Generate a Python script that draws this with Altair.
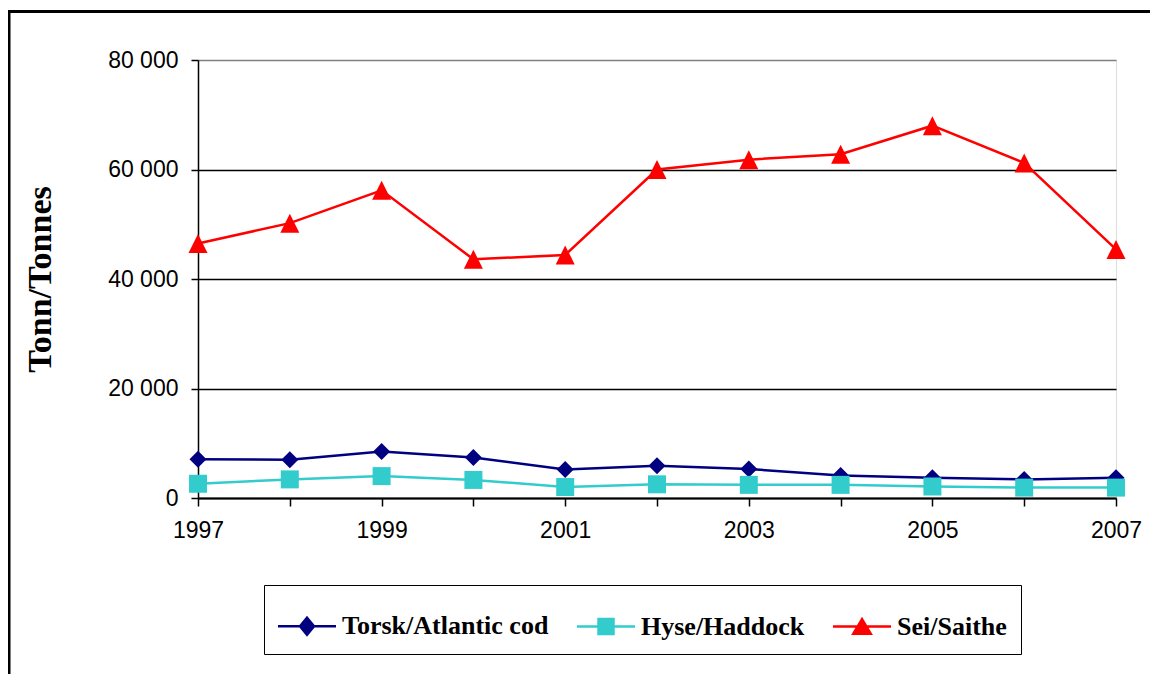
import altair as alt
import pandas as pd

years = list(range(1997, 2008))
torsk = [7100, 7000, 8500, 7400, 5200, 5900, 5300, 4100, 3700, 3400, 3700]
hyse = [2600, 3400, 4000, 3300, 2000, 2500, 2400, 2400, 2100, 1900, 1900]
sei = [46500, 50200, 56200, 43600, 44400, 60000, 61800, 62800, 68000, 61200, 45400]

series = ["Torsk/Atlantic cod", "Hyse/Haddock", "Sei/Saithe"]
colors = ["#000080", "#33CCCC", "#FF0000"]
y_ticks = [0, 20000, 40000, 60000, 80000]

rows = []
for name, vals in zip(series, [torsk, hyse, sei]):
    for yr, v in zip(years, vals):
        rows.append({"year": yr, "value": v, "series": name})
df = pd.DataFrame(rows)

# marker shapes on the chart (unit square -1..1)
marker_paths = [
    "M0,-0.85L0.85,0L0,0.85L-0.85,0Z",
    "M-0.9,-0.9L0.9,-0.9L0.9,0.9L-0.9,0.9Z",
    "M0,-0.95L0.95,0.95L-0.95,0.95Z",
]
# legend symbols: line with marker in its middle
legend_paths = [
    "M-1.049,0L1.204,0M0.078,-0.33L0.35,0L0.078,0.33L-0.194,0Z",
    "M-1.049,0L1.204,0M-0.213,-0.291L0.369,-0.291L0.369,0.291L-0.213,0.291Z",
    "M-1.049,0L1.204,0M0.078,-0.283L0.416,0.283L-0.26,0.283Z",
]

x_enc = alt.X(
    "year:Q",
    scale=alt.Scale(domain=[1997, 2007], nice=False, zero=False),
    axis=alt.Axis(
        values=years, format="d",
        labelExpr="datum.value % 2 == 1 ? datum.label : ''",
        title=None, grid=False,
        domainColor="black", domainWidth=2,
        tickColor="black", tickWidth=1.5, tickSize=8,
        labelPadding=13, labelFont="Liberation Sans", labelFontSize=23,
        labelColor="black", labelFlush=False, labelOverlap=False,
    ),
)
y_enc = alt.Y(
    "value:Q",
    scale=alt.Scale(domain=[0, 80000], nice=False),
    axis=alt.Axis(
        values=y_ticks,
        labelExpr="replace(format(datum.value, ','), ',', ' ')",
        title="Tonn/Tonnes", titleFont="Liberation Serif", titleFontSize=34,
        titleFontWeight="bold", titleColor="black",
        titleX=-148, titleY=219, titleAngle=270, titleAlign="center",
        titleBaseline="alphabetic",
        grid=True,
        gridColor={"condition": {"test": "datum.value >= 80000", "value": "#808080"}, "value": "black"},
        gridWidth=1.5,
        domainColor="black", domainWidth=1.5,
        tickColor="black", tickSize=7, tickWidth=1.5,
        labelPadding=13, labelFont="Liberation Sans", labelFontSize=23,
        labelColor="black", labelFlush=False, labelOverlap=False,
    ),
)

color_scale = alt.Scale(domain=series, range=colors)

base = alt.Chart(df)

lines = base.mark_line(strokeWidth=2.5).encode(
    x=x_enc, y=y_enc,
    color=alt.Color("series:N", scale=color_scale, legend=None),
)

points = base.mark_point(filled=True, size=400, opacity=1).encode(
    x=x_enc, y=y_enc,
    color=alt.Color("series:N", scale=color_scale, legend=None),
    shape=alt.Shape("series:N", scale=alt.Scale(domain=series, range=marker_paths), legend=None),
)

leg = alt.Legend(
    orient="none", legendX=66, legendY=525, direction="horizontal", title=None,
    labelFont="Liberation Serif", labelFontSize=26, labelFontWeight="bold",
    labelColor="black", labelLimit=500, labelOffset=10,
    symbolSize=2652, symbolStrokeWidth=2.5, symbolOpacity=1,
    strokeColor="black", fillColor="white", padding=14, columnPadding=22,
)

legend_layer = base.transform_filter("false").mark_point(filled=True, opacity=1, strokeWidth=2.5).encode(
    x=x_enc, y=y_enc,
    color=alt.Color("series:N", scale=alt.Scale(domain=series, range=colors), legend=leg),
    stroke=alt.Stroke("series:N", scale=alt.Scale(domain=series, range=colors), legend=leg),
    shape=alt.Shape("series:N", scale=alt.Scale(domain=series, range=legend_paths), legend=leg),
)

one = pd.DataFrame({"k": [0]})
frame_top = alt.Chart(one).mark_rule(color="black", strokeWidth=3).encode(
    x=alt.value(-190), x2=alt.value(1000), y=alt.value(-48.5)
)
frame_left = alt.Chart(one).mark_rule(color="black", strokeWidth=2.5).encode(
    x=alt.value(-188.75), y=alt.value(-50), y2=alt.value(700)
)

chart = alt.layer(lines, points, legend_layer, frame_top, frame_left).resolve_scale(
    color="independent", shape="independent", stroke="independent"
).properties(
    width=918, height=438,
    autosize=alt.AutoSizeParams(type="none"),
    padding={"left": 190, "top": 52, "right": 34, "bottom": 176},
).configure_view(
    stroke="#808080", strokeWidth=2
).configure(background="white")

chart.save("out.html", embed_options={"renderer": "svg", "actions": False})
